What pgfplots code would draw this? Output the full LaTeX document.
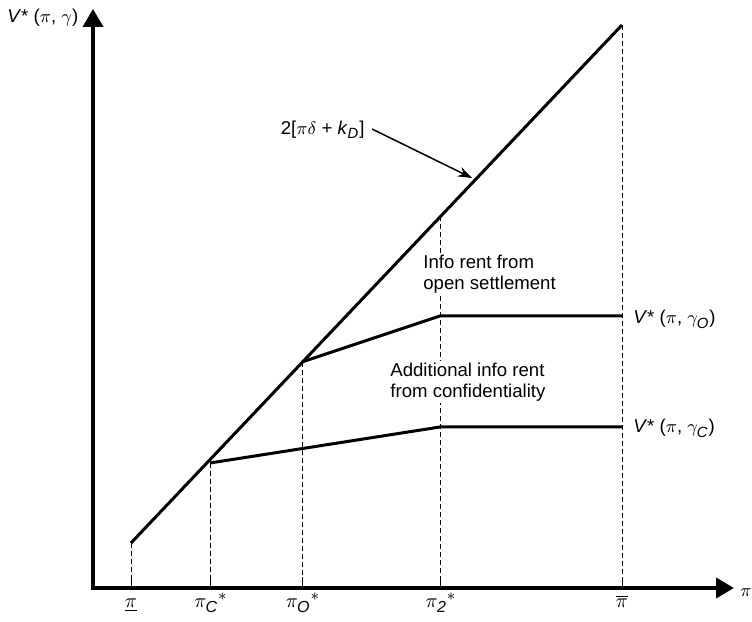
\documentclass[border=0pt]{standalone}
\usepackage{amsmath}
\usepackage{pgfplots}
\pgfplotsset{compat=1.18}
\usepackage{fontspec}
\setmainfont{Liberation Sans}
\usetikzlibrary{arrows.meta}
\DeclareMathSizes{9.3}{9.3}{7.4}{6}
\DeclareMathSizes{10}{10.3}{8}{6}
\begin{document}
\fontsize{9.3}{10.3}\selectfont
\begin{tikzpicture}[every node/.style={font=\fontsize{9.3}{10.3}\selectfont}]
\begin{axis}[x=0.5pt,y=0.5pt,xmin=0,xmax=752,ymin=0,ymax=622,
  hide axis,clip=false,enlargelimits=false]
% axes
\addplot[line width=2pt,line join=miter,
  {Triangle[length=9pt,width=10pt]}-{Triangle[length=9pt,width=10pt]}]
  coordinates {(93,613) (93,34) (734,34)};
% ticks
\addplot[line width=0.5pt] coordinates {(131,34) (131,45)};
\addplot[line width=0.5pt] coordinates {(210,34) (210,45)};
\addplot[line width=0.5pt] coordinates {(302,34) (302,45)};
\addplot[line width=0.5pt] coordinates {(440,34) (440,45)};
\addplot[line width=0.5pt] coordinates {(622,34) (622,45)};
% dashed guides
\addplot[line width=0.5pt,dash pattern=on 2.5pt off 1.5pt] coordinates {(131,79) (131,45)};
\addplot[line width=0.5pt,dash pattern=on 2.5pt off 1.5pt] coordinates {(210,159) (210,45)};
\addplot[line width=0.5pt,dash pattern=on 2.5pt off 1.5pt] coordinates {(302,260) (302,45)};
\addplot[line width=0.5pt,dash pattern=on 2.5pt off 1.5pt] coordinates {(440,406) (440,45)};
\addplot[line width=0.5pt,dash pattern=on 2.5pt off 1.5pt] coordinates {(622,597) (622,45)};
% curves
\addplot[line width=1.5pt] coordinates {(131,79) (622,597)};
\addplot[line width=1.5pt,line join=miter] coordinates {(302,260) (440,306) (622,306)};
\addplot[line width=1.5pt,line join=miter] coordinates {(210,159) (440,195) (622,195)};
% annotation arrow
\addplot[line width=0.75pt,-{Stealth[length=7pt,width=5pt]}] coordinates {(372,493) (472,444)};
% texts
\node[anchor=base east,inner sep=0pt,font=\fontsize{9.3}{10.3}\selectfont] at (axis cs:365,487) {2[$\pi\delta$ + \textit{k}$_{\textit{D}}$]};
\node[anchor=north west,align=left,fill=white,inner sep=1pt,font=\fontsize{9.3}{10.3}\selectfont] at (axis cs:421,369) {Info rent from\\open settlement};
\node[anchor=north west,align=left,fill=white,inner sep=1pt,font=\fontsize{9.3}{10.3}\selectfont] at (axis cs:388,261) {Additional info rent\\from confidentiality};
\node[anchor=base west,inner sep=0pt,font=\fontsize{9.3}{10.3}\selectfont] at (axis cs:633,298) {\textit{V}* ($\pi$, $\gamma_{\textit{O}}$)};
\node[anchor=base west,inner sep=0pt,font=\fontsize{9.3}{10.3}\selectfont] at (axis cs:633,189) {\textit{V}* ($\pi$, $\gamma_{\textit{C}}$)};
\node[anchor=base west,inner sep=0pt,font=\fontsize{9.3}{10.3}\selectfont] at (axis cs:7,599) {\textit{V}* ($\pi$, $\gamma$)};
\node[anchor=base west,inner sep=0pt,font=\fontsize{9.3}{10.3}\selectfont] at (axis cs:740,25) {$\pi$};
% tick labels
\node[anchor=base,inner sep=0pt,font=\fontsize{10}{10.3}\selectfont] at (axis cs:131,14) {$\underline{\pi}$};
\node[anchor=base,inner sep=0pt,font=\fontsize{10}{10.3}\selectfont] at (axis cs:211,14) {$\pi_{\textit{C}}{}^{*}$};
\node[anchor=base,inner sep=0pt,font=\fontsize{10}{10.3}\selectfont] at (axis cs:303,14) {$\pi_{\textit{O}}{}^{*}$};
\node[anchor=base,inner sep=0pt,font=\fontsize{10}{10.3}\selectfont] at (axis cs:441,14) {$\pi_{\textit{2}}{}^{*}$};
\node[anchor=base,inner sep=0pt,font=\fontsize{10}{10.3}\selectfont] at (axis cs:622,14) {$\overline{\pi}$};
\end{axis}
\pgfresetboundingbox
\path (0,0) rectangle (376pt,311pt);
\end{tikzpicture}
\end{document}
